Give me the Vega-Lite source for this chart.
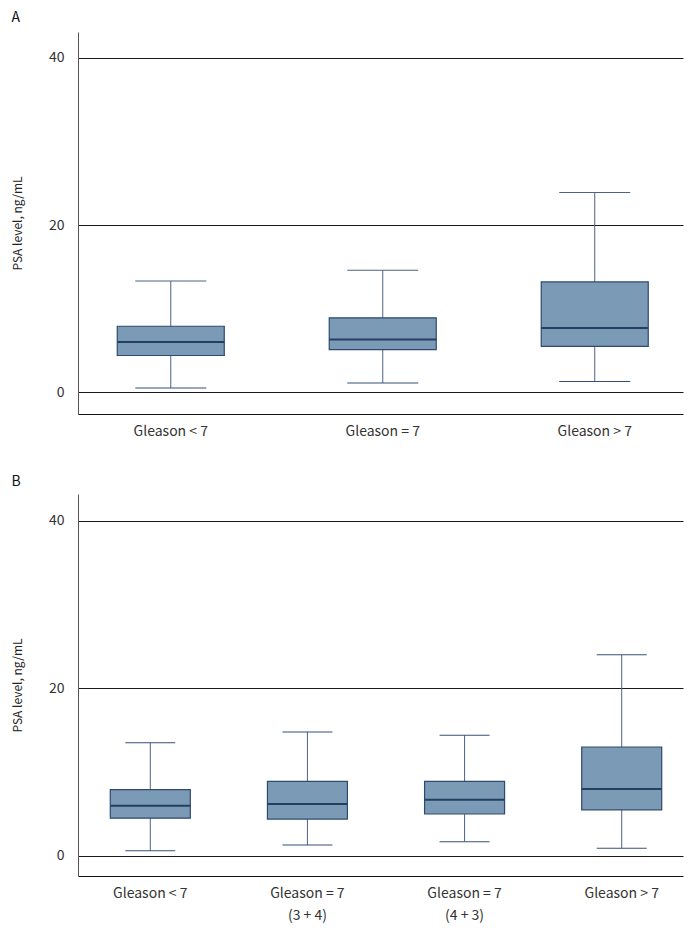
{
  "$schema": "https://vega.github.io/schema/vega-lite/v6.json",
  "padding": {"left": 11, "top": 11, "right": 5, "bottom": 5},
  "datasets": {
    "a": [
      {"group": "Gleason < 7", "lower": 0.5, "q1": 4.4, "median": 6.0, "q3": 7.9, "upper": 13.3},
      {"group": "Gleason = 7", "lower": 1.1, "q1": 5.1, "median": 6.3, "q3": 8.9, "upper": 14.6},
      {"group": "Gleason > 7", "lower": 1.3, "q1": 5.5, "median": 7.7, "q3": 13.2, "upper": 23.9}
    ],
    "b": [
      {"group": "Gleason < 7", "lower": 0.6, "q1": 4.5, "median": 6.0, "q3": 7.9, "upper": 13.5},
      {"group": "Gleason = 7 (3 + 4)", "lower": 1.3, "q1": 4.4, "median": 6.2, "q3": 8.9, "upper": 14.8},
      {"group": "Gleason = 7 (4 + 3)", "lower": 1.7, "q1": 5.0, "median": 6.7, "q3": 8.9, "upper": 14.4},
      {"group": "Gleason > 7", "lower": 0.9, "q1": 5.5, "median": 8.0, "q3": 13.0, "upper": 24.0}
    ]
  },
  "config": {
    "view": {"stroke": null},
    "font": "Noto Sans CJK KR",
    "concat": {"spacing": 37},
    "title": {"anchor": "start", "fontSize": 14, "fontWeight": "normal", "color": "#111"}
  },
  "vconcat": [
    {
      "width": 605,
      "height": 382,
      "title": {"text": "A", "offset": 7},
      "data": {"name": "a"},
      "encoding": {
        "x": {
          "field": "group", "type": "nominal", "sort": null,
          "scale": {"paddingInner": 0.5, "paddingOuter": 0.177, "align": 0.53},
          "axis": {"title": null, "labelAngle": 0, "ticks": false, "domainColor": "#111", "labelPadding": 10, "labelFontSize": 14, "labelColor": "#333"}
        }
      },
      "layer": [
        {
          "mark": {"type": "rule", "color": "#4d6384", "strokeWidth": 1},
          "encoding": {
            "y": {"field": "lower", "type": "quantitative", "scale": {"domain": [-2.6, 43.1], "nice": false, "zero": false},
              "axis": {"title": "PSA level, ng/mL", "values": [0, 20, 40], "grid": true, "gridColor": "#1a1a1a", "gridOpacity": 1, "ticks": false, "domainColor": "#555", "labelPadding": 14, "labelFontSize": 14, "labelColor": "#333", "titleFontSize": 12, "titleFontWeight": "normal", "titleColor": "#222", "titlePadding": 24}},
            "y2": {"field": "upper"}
          }
        },
        {
          "mark": {"type": "tick", "color": "#4d6384", "size": 71, "thickness": 1, "opacity": 1},
          "encoding": {"y": {"field": "upper", "type": "quantitative"}}
        },
        {
          "mark": {"type": "tick", "color": "#34507a", "size": 71, "thickness": 1, "opacity": 1},
          "encoding": {"y": {"field": "lower", "type": "quantitative"}}
        },
        {
          "mark": {"type": "bar", "size": 107, "fill": "#7b9ab5", "stroke": "#2e4a6e", "strokeWidth": 1.2},
          "encoding": {"y": {"field": "q1", "type": "quantitative"}, "y2": {"field": "q3"}}
        },
        {
          "mark": {"type": "tick", "color": "#243f63", "size": 107, "thickness": 2, "opacity": 1},
          "encoding": {"y": {"field": "median", "type": "quantitative"}}
        }
      ]
    },
    {
      "width": 605,
      "height": 382,
      "title": {"text": "B", "offset": 5},
      "data": {"name": "b"},
      "encoding": {
        "x": {
          "field": "group", "type": "nominal", "sort": null,
          "scale": {"paddingInner": 0.5, "paddingOuter": 0.175, "align": 0.6},
          "axis": {"title": null, "labelAngle": 0, "ticks": false, "domainColor": "#111", "labelPadding": 10, "labelFontSize": 14, "labelColor": "#333", "labelLineHeight": 22,
            "labelExpr": "indexof(datum.label, ' (') > 0 ? [slice(datum.label, 0, indexof(datum.label, ' (')), slice(datum.label, indexof(datum.label, ' (') + 1)] : datum.label"}
        }
      },
      "layer": [
        {
          "mark": {"type": "rule", "color": "#4d6384", "strokeWidth": 1},
          "encoding": {
            "y": {"field": "lower", "type": "quantitative", "scale": {"domain": [-2.4, 43.2], "nice": false, "zero": false},
              "axis": {"title": "PSA level, ng/mL", "values": [0, 20, 40], "grid": true, "gridColor": "#1a1a1a", "gridOpacity": 1, "ticks": false, "domainColor": "#555", "labelPadding": 14, "labelFontSize": 14, "labelColor": "#333", "titleFontSize": 12, "titleFontWeight": "normal", "titleColor": "#222", "titlePadding": 24}},
            "y2": {"field": "upper"}
          }
        },
        {
          "mark": {"type": "tick", "color": "#34507a", "size": 50, "thickness": 1, "opacity": 1},
          "encoding": {"y": {"field": "upper", "type": "quantitative"}}
        },
        {
          "mark": {"type": "tick", "color": "#34507a", "size": 50, "thickness": 1, "opacity": 1},
          "encoding": {"y": {"field": "lower", "type": "quantitative"}}
        },
        {
          "mark": {"type": "bar", "size": 80, "fill": "#7b9ab5", "stroke": "#2e4a6e", "strokeWidth": 1.2},
          "encoding": {"y": {"field": "q1", "type": "quantitative"}, "y2": {"field": "q3"}}
        },
        {
          "mark": {"type": "tick", "color": "#243f63", "size": 80, "thickness": 2, "opacity": 1},
          "encoding": {"y": {"field": "median", "type": "quantitative"}}
        }
      ]
    }
  ]
}
